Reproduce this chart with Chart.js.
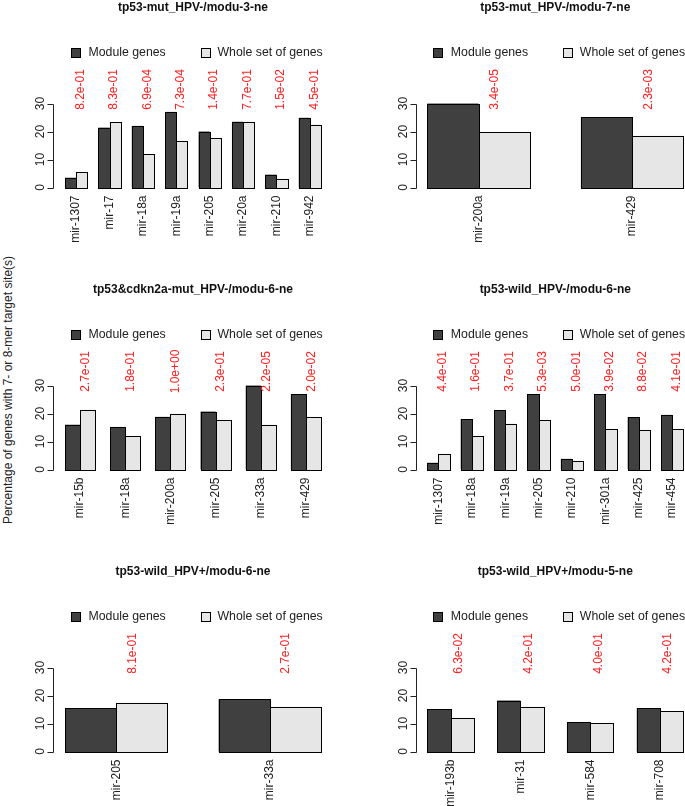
<!DOCTYPE html>
<html><head><meta charset="utf-8">
<script src="https://cdn.jsdelivr.net/npm/chart.js@4.4.1/dist/chart.umd.min.js"></script>
<style>
html,body{margin:0;padding:0;background:#fff;overflow:hidden;width:685px;height:806px;position:relative;}
canvas{position:absolute;}
#ylab{position:absolute;width:320px;height:14px;line-height:14px;left:-152.5px;top:383px;text-align:center;
 transform:rotate(-90deg);transform-origin:50% 50%;font:12px "Liberation Sans",Arial,sans-serif;color:#222;white-space:nowrap;}
</style></head><body>
<div id="ylab">Percentage of genes with 7- or 8-mer target site(s)</div>
<script>
// ---------------- data ----------------
const seriesLabels = ['Module genes', 'Whole set of genes'];

const p1Title = 'tp53-mut_HPV-/modu-3-ne';
const p1Categories = ['mir-1307','mir-17','mir-18a','mir-19a','mir-205','mir-20a','mir-210','mir-942'];
const p1Module = [3.5, 21.4, 22.0, 27.0, 20.0, 23.5, 4.6, 24.9];
const p1Whole  = [5.4, 23.3, 11.8, 16.5, 17.7, 23.5, 3.1, 22.5];
const p1PValues = ['8.2e-01','8.3e-01','6.9e-04','7.3e-04','1.4e-01','7.7e-01','1.5e-02','4.5e-01'];

const p2Title = 'tp53-mut_HPV-/modu-7-ne';
const p2Categories = ['mir-200a','mir-429'];
const p2Module = [30.0, 25.1];
const p2Whole  = [19.8, 18.5];
const p2PValues = ['3.4e-05','2.3e-03'];

const p3Title = 'tp53&cdkn2a-mut_HPV-/modu-6-ne';
const p3Categories = ['mir-15b','mir-18a','mir-200a','mir-205','mir-33a','mir-429'];
const p3Module = [16.0, 15.2, 18.8, 20.7, 30.0, 26.9];
const p3Whole  = [21.4, 11.8, 19.9, 17.6, 16.0, 18.8];
const p3PValues = ['2.7e-01','1.8e-01','1.0e+00','2.3e-01','2.2e-05','2.0e-02'];

const p4Title = 'tp53-wild_HPV-/modu-6-ne';
const p4Categories = ['mir-1307','mir-18a','mir-19a','mir-205','mir-210','mir-301a','mir-425','mir-454'];
const p4Module = [2.4, 18.0, 21.1, 26.9, 3.8, 26.9, 18.7, 19.5];
const p4Whole  = [5.5, 11.8, 16.4, 17.6, 3.1, 14.4, 14.0, 14.4];
const p4PValues = ['4.4e-01','1.6e-01','3.7e-01','5.3e-03','5.0e-01','3.9e-02','8.8e-02','4.1e-01'];

const p5Title = 'tp53-wild_HPV+/modu-6-ne';
const p5Categories = ['mir-205','mir-33a'];
const p5Module = [15.5, 18.6];
const p5Whole  = [17.4, 16.0];
const p5PValues = ['8.1e-01','2.7e-01'];

const p6Title = 'tp53-wild_HPV+/modu-5-ne';
const p6Categories = ['mir-193b','mir-31','mir-584','mir-708'];
const p6Module = [15.1, 18.2, 10.5, 15.5];
const p6Whole  = [12.0, 16.0, 10.1, 14.4];
const p6PValues = ['6.3e-02','4.2e-01','4.0e-01','4.2e-01'];

const yTickStep = 10;
const yMax = 30;
const pValueY = 35;

// ---------------- styling / layout ----------------
const FONT = '"Liberation Sans", Arial, sans-serif';
const DARK = '#404040', LIGHT = '#e6e6e6', TXT = '#222';

const panels = [
  {title:p1Title, cats:p1Categories, mod:p1Module, whole:p1Whole, pv:p1PValues, col:0, row:0},
  {title:p2Title, cats:p2Categories, mod:p2Module, whole:p2Whole, pv:p2PValues, col:1, row:0},
  {title:p3Title, cats:p3Categories, mod:p3Module, whole:p3Whole, pv:p3PValues, col:0, row:1},
  {title:p4Title, cats:p4Categories, mod:p4Module, whole:p4Whole, pv:p4PValues, col:1, row:1},
  {title:p5Title, cats:p5Categories, mod:p5Module, whole:p5Whole, pv:p5PValues, col:0, row:2},
  {title:p6Title, cats:p6Categories, mod:p6Module, whole:p6Whole, pv:p6PValues, col:1, row:2},
];

const colGeom = [
  {canvasLeft:0,   canvasWidth:360, barsStart:65,    barsEnd:321},
  {canvasLeft:343, canvasWidth:380, barsStart:427.3, barsEnd:683.3},
];
const ROW_H = 282, ZERO0 = 187.5, PLOT_H = 84;

function decoPlugin(p){
  return {
    id:'deco',
    afterDatasetsDraw(chart){
      // crisp R-style outlines on every bar, from the bar elements' own geometry
      const ctx = chart.ctx;
      ctx.save();
      ctx.strokeStyle = '#000'; ctx.lineWidth = 1;
      chart.data.datasets.forEach((d, di) => {
        chart.getDatasetMeta(di).data.forEach(el => {
          const b = el.getProps(['x','y','base','width'], true);
          const l = Math.round(b.x - b.width / 2) + 0.5, r = Math.round(b.x + b.width / 2) + 0.5;
          const t = Math.round(Math.min(b.y, b.base)) + 0.5, bo = Math.round(Math.max(b.y, b.base)) + 0.5;
          ctx.fillStyle = d.backgroundColor;
          ctx.fillRect(l, t, r - l, bo - t);
          ctx.strokeRect(l, t, r - l, bo - t);
        });
      });
      ctx.restore();
    },
    afterDraw(chart){
      const ctx = chart.ctx, xs = chart.scales.x, ys = chart.scales.y, ca = chart.chartArea;
      const n = p.cats.length;
      const u = (ca.right - ca.left) / n / 3;
      const cx = (ca.left + ca.right) / 2;
      const y0 = ys.getPixelForValue(0);
      ctx.save();
      // title
      ctx.fillStyle = '#111';
      ctx.font = 'bold 12px ' + FONT;
      ctx.textAlign = 'center'; ctx.textBaseline = 'middle';
      ctx.fillText(p.title, cx, y0 - 180);
      // legend
      const ly = y0 - 135;
      const ds = chart.data.datasets;
      const items = [{bx: cx - 122, tx: cx - 104.5}, {bx: cx + 8, tx: cx + 24.5}];
      ctx.font = '12.3px ' + FONT;
      ctx.textAlign = 'left';
      items.forEach((it, k) => {
        ctx.fillStyle = ds[k].backgroundColor;
        ctx.fillRect(Math.round(it.bx) + 0.5, Math.round(ly - 4.5) + 0.5, 9, 9);
        ctx.strokeStyle = '#000'; ctx.lineWidth = 1;
        ctx.strokeRect(Math.round(it.bx) + 0.5, Math.round(ly - 4.5) + 0.5, 9, 9);
        ctx.fillStyle = TXT;
        ctx.fillText(ds[k].label, it.tx, ly);
      });
      // y axis
      const firstLeft = xs.getPixelForValue(0) - u;
      const ax = Math.round(firstLeft - 11.7) + 0.5;
      ctx.strokeStyle = '#222'; ctx.lineWidth = 1;
      ctx.beginPath();
      ctx.moveTo(ax, Math.round(ys.getPixelForValue(0)) + 0.5);
      ctx.lineTo(ax, Math.round(ys.getPixelForValue(yMax)) + 0.5);
      ys.ticks.forEach(t => {
        const py = Math.round(ys.getPixelForValue(t.value)) + 0.5;
        ctx.moveTo(ax - 6, py); ctx.lineTo(ax, py);
      });
      ctx.stroke();
      ctx.fillStyle = TXT;
      ctx.font = '12px ' + FONT;
      ys.ticks.forEach(t => {
        const py = ys.getPixelForValue(t.value);
        ctx.save();
        ctx.translate(ax - 10, py);
        ctx.rotate(-Math.PI / 2);
        ctx.textAlign = 'center'; ctx.textBaseline = 'alphabetic';
        ctx.fillText(String(t.value), 0, 0);
        ctx.restore();
      });
      // category labels + p-values
      p.cats.forEach((c, i) => {
        const px = xs.getPixelForValue(i);
        ctx.save();
        ctx.translate(px, y0 + 8);
        ctx.rotate(-Math.PI / 2);
        ctx.textAlign = 'right'; ctx.textBaseline = 'middle';
        ctx.fillStyle = TXT;
        ctx.fillText(c, 0, 0);
        ctx.restore();
        ctx.save();
        ctx.translate(px + 0.3 * u + 1, ys.getPixelForValue(pValueY));
        ctx.rotate(-Math.PI / 2);
        ctx.textAlign = 'center'; ctx.textBaseline = 'middle';
        ctx.fillStyle = '#ff2020';
        ctx.fillText(p.pv[i], 0, 0);
        ctx.restore();
      });
      ctx.restore();
    }
  };
}

panels.forEach(p => {
  const g = colGeom[p.col];
  const n = p.cats.length;
  const u = (g.barsEnd - g.barsStart) / (3 * n - 1);
  const areaLeft = g.barsStart - u / 2, areaRight = g.barsEnd + u / 2;
  const canvasTop = p.row * ROW_H;
  const zero = ZERO0 + p.row * ROW_H;
  const top = zero - PLOT_H;
  const cv = document.createElement('canvas');
  cv.width = g.canvasWidth; cv.height = ROW_H;
  cv.style.left = g.canvasLeft + 'px'; cv.style.top = canvasTop + 'px';
  cv.style.width = g.canvasWidth + 'px'; cv.style.height = ROW_H + 'px';
  document.body.appendChild(cv);
  new Chart(cv, {
    type: 'bar',
    data: {
      labels: p.cats,
      datasets: [
        {label: seriesLabels[0], data: p.mod, backgroundColor: DARK, borderWidth: 0,
         categoryPercentage: 2/3, barPercentage: 1, clip: false, inflateAmount: 0},
        {label: seriesLabels[1], data: p.whole, backgroundColor: LIGHT, borderWidth: 0,
         categoryPercentage: 2/3, barPercentage: 1, clip: false, inflateAmount: 0}
      ]
    },
    options: {
      responsive: false, animation: false, devicePixelRatio: 1,
      layout: {padding: {left: areaLeft - g.canvasLeft, right: g.canvasLeft + g.canvasWidth - areaRight,
                         top: top - canvasTop, bottom: canvasTop + ROW_H - zero}},
      plugins: {legend: {display: false}, title: {display: false}, tooltip: {enabled: false}},
      scales: {
        x: {type: 'category', display: false, offset: true},
        y: {display: false, min: 0, max: yMax, ticks: {stepSize: yTickStep}}
      }
    },
    plugins: [decoPlugin(p)]
  });
});
</script>
</body></html>
